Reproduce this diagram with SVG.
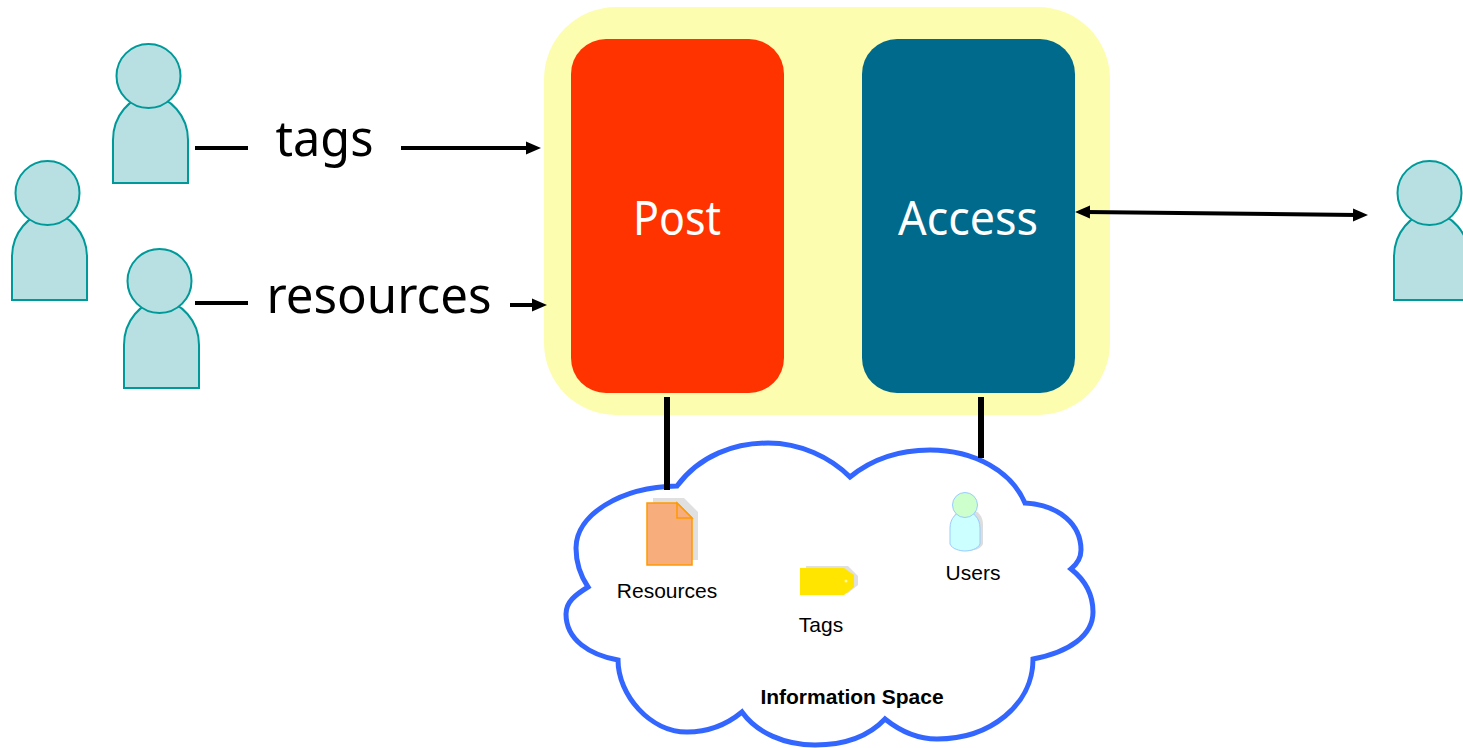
<svg xmlns="http://www.w3.org/2000/svg" width="1463" height="748" viewBox="0 0 1463 748">
<style>
.p{fill:#B8E0E3;stroke:#009999;stroke-width:2}
.big{font-family:"Noto Sans","Open Sans","Liberation Sans",sans-serif;fill:#000;font-size:49px;text-anchor:middle}
.w{font-family:"Noto Sans","Open Sans","Liberation Sans",sans-serif;fill:#fff;font-size:47px;text-anchor:middle}
.s{font-family:"Liberation Sans",Arial,sans-serif;font-size:21px;fill:#000;text-anchor:middle}
.c{stroke:#000;fill:none;stroke-width:4}
.t{stroke:#000;fill:none;stroke-width:6}
</style>
<defs>
<marker id="a" markerUnits="userSpaceOnUse" markerWidth="16" markerHeight="16" refX="4" refY="8" orient="auto-start-reverse"><path d="M0 1.500L15 8L0 14.500Z" fill="#000"/></marker>
<symbol id="person" overflow="visible">
<path class="p" d="M1 139V96C1 72 18 52 38 52S76 72 76 96V139Z"/>
<circle class="p" cx="36.500" cy="32" r="32"/>
</symbol>
</defs>
<rect id="space" x="544" y="7" width="566" height="408" rx="72" fill="#FDFDB0"/>
<g id="post"><rect x="571" y="39" width="213" height="354" rx="35" fill="#FF3300"/><text class="w" x="677" y="235" textLength="88" lengthAdjust="spacingAndGlyphs">Post</text></g>
<g id="access"><rect x="862" y="39" width="213" height="354" rx="35" fill="#006A8C"/><text class="w" x="968" y="235" textLength="140" lengthAdjust="spacingAndGlyphs">Access</text></g>
<g id="user1"><use href="#person" x="112" y="44"/></g>
<g id="user2"><use href="#person" x="11" y="161"/></g>
<g id="user3"><use href="#person" x="123" y="249"/></g>
<g id="user4"><use href="#person" x="1393" y="161"/></g>
<g id="tags-label"><text class="big" x="324.500" y="156" textLength="98" lengthAdjust="spacingAndGlyphs">tags</text></g>
<g id="resources-label"><text class="big" x="379" y="313" textLength="225" lengthAdjust="spacingAndGlyphs">resources</text></g>
<g id="cloud">
<path fill="#fff" stroke="#3366FF" stroke-width="5" stroke-linejoin="miter" d="M677 486C700 455 735 443 768 443C800 443 830 457 850 477C872 459 900 450 930 450C975 450 1012 472 1025 503C1060 505 1081 525 1081 550C1081 558 1077 564 1071 569C1085 580 1093 595 1093 612C1093 635 1070 652 1033 659C1033 705 990 739 937 739C918 739 900 731 885 719C868 737 843 745 815 745C785 745 757 733 742 712C725 726 705 732 687 732C650 732 618 695 618 660C590 655 566 640 566 614C566 602 575 595 588 587C580 575 576 562 576 548C576 515 620 487 677 486Z"/>
<text class="s" x="852" y="704" font-weight="bold">Information Space</text>
</g>
<g id="resources">
<path d="M653 498H684L698 512V560H653Z" fill="#E0E0E0"/>
<path d="M647 503H677L692 518V565H647Z" fill="#F7AD7C" stroke="#FF9900" stroke-width="1.500"/>
<path d="M677 503V518H692Z" fill="#F7AD7C" stroke="#FF9900" stroke-width="1.500"/>
<text class="s" x="667" y="598">Resources</text>
</g>
<g id="tags">
<path d="M806 566H848L858 576V585L848 593H806Z" fill="#E0E0E0"/>
<path d="M800 568H844L854 575V587L844 595H800Z" fill="#FFE500"/>
<circle cx="846" cy="581" r="1.500" fill="#FFF59A"/>
<text class="s" x="821" y="632">Tags</text>
</g>
<g id="users">
<path d="M953 520C953 514 958 510 966 510H970C978 510 983 516 983 525V544C981 549 973 551 968 551C960 551 953 548 953 544Z" fill="#DDD"/>
<path d="M950 528C950 518 957 511 965 511S980 518 980 528V544C978 549 970 551 965 551S952 549 950 544Z" fill="#CCFFFF" stroke="#99CCFF"/>
<circle cx="965" cy="505" r="12.500" fill="#CCFFCC" stroke="#99CCFF"/>
<text class="s" x="973" y="580">Users</text>
</g>
<g id="connectors">
<path class="c" d="M195 148H530" stroke-dasharray="53 153 182" marker-end="url(#a)"/>
<path class="c" d="M195 303H248"/>
<path class="c" d="M510 305H536" marker-end="url(#a)"/>
<path class="c" d="M1086 212L1357 215" marker-start="url(#a)" marker-end="url(#a)"/>
<path class="t" d="M667 397V490"/>
<path class="t" d="M981 397V458"/>
</g>
</svg>
